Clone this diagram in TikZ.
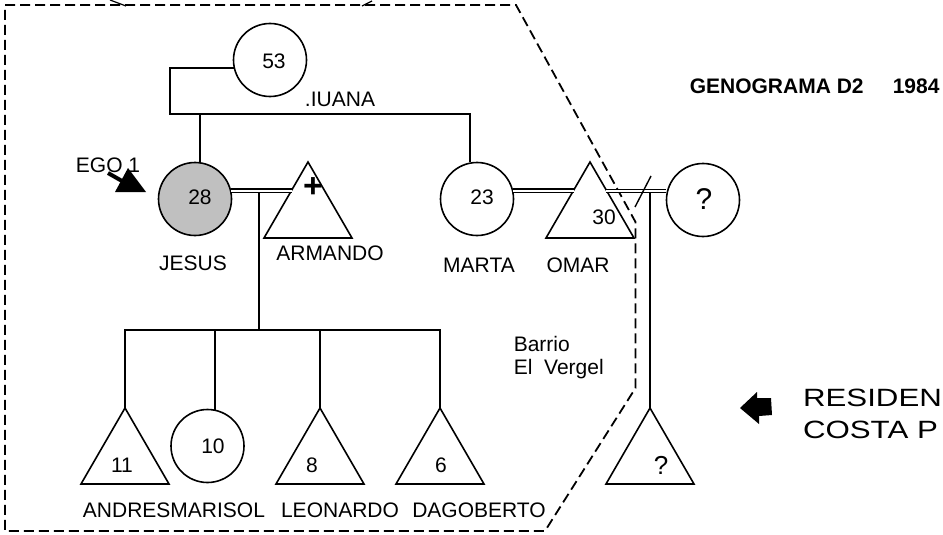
\documentclass[tikz,border=0pt]{standalone}
\usepackage{fontspec}
\setmainfont{Liberation Sans}
\definecolor{egogray}{HTML}{C0C0C0}
\newcommand\gtri[2]{%
  \coordinate (#1) at (#2);
  \draw (#1) -- ++(-44,76) -- ++(88,0) -- cycle;}
\begin{document}
\begin{tikzpicture}[x=1pt,y=-1pt,line width=1.6pt,
  lbl/.style={font=\fontsize{21}{25}\selectfont,inner sep=0pt},
  fem/.style={circle,draw,minimum size=73pt,inner sep=0pt},
  marriage/.style={double,double distance=2.2pt,line width=1.1pt},
  border/.style={line width=1.8pt,dash pattern=on 10pt off 5pt}]
\useasboundingbox (0,0) rectangle (943,535);
% boundary
\draw[border] (5,5) -- (516,5) -- (635.5,222) -- (635.5,388) -- (545,531) -- (5,531) -- cycle;
\draw[line width=1.2pt] (110,0) -- (126,6);
\draw[line width=1.2pt] (362,6) -- (372,1);
% persons
\node[fem] (abuela) at (270,60) {};
\node[fem,fill=egogray] (jesus) at (195,199) {};
\node[fem] (marta) at (477,199) {};
\node[fem] (qf) at (703,200) {};
\node[fem] (marisol) at (207.5,446) {};
\gtri{armando}{308,162}
\gtri{omar}{590,162}
\gtri{andres}{125,408}
\gtri{leonardo}{320,408}
\gtri{dagoberto}{440,408}
\gtri{qm}{650,408}
% numbers
\node[lbl] at (274,61) {53};
\node[lbl] at (200,197) {28};
\node[lbl] at (482,197) {23};
\node[lbl] at (604,217) {30};
\node[lbl,font=\fontsize{30}{34}\selectfont] at (704,199) {?};
\node[lbl] at (122,465) {11};
\node[lbl] at (213,446) {10};
\node[lbl] at (312,465) {8};
\node[lbl] at (441,465) {6};
\node[lbl,font=\fontsize{26}{30}\selectfont] at (661,465) {?};
\node[inner sep=0pt,font=\bfseries\fontsize{34}{34}\selectfont] at (313,188) {+};
% parents line
\coordinate (sib) at (170,114);
\draw (abuela.192) -| (sib) -| (marta.101);
\draw (jesus.82) -- (jesus.82 |- sib);
% couples
\coordinate (armL) at (292,191);
\coordinate (omarL) at (574,191);
\coordinate (omarR) at (606,191);
\draw[marriage] (jesus.13) -- (jesus.13 -| armL);
\draw[marriage] (marta.13) -- (marta.13 -| omarL);
\draw[marriage] (omarR) -- (omarR -| qf.west);
\coordinate (sA) at (635,207);
\coordinate (sB) at (651,176);
\draw[line width=1.4pt] (sA) -- (sB);
% children of Jesus
\coordinate (jc) at (259,193);
\coordinate (kbar) at (259,330);
\draw (jc) -- (kbar);
\draw (andres) -- (andres |- kbar) -- (dagoberto |- kbar) -- (dagoberto);
\draw (leonardo) -- (leonardo |- kbar);
\draw (marisol.78) -- (marisol.78 |- kbar);
% child of Omar
\coordinate (oc) at (650,193);
\draw (oc) -- (qm);
% names
\node[lbl] at (340,99) {.IUANA};
\node[lbl] at (108,165) {EGO 1};
\node[lbl] at (193,263) {JESUS};
\node[lbl] at (330,253) {ARMANDO};
\node[lbl] at (479,265) {MARTA};
\node[lbl] at (578,265) {OMAR};
\node[lbl] at (174,510) {ANDRESMARISOL};
\node[lbl] at (340,510) {LEONARDO};
\node[lbl] at (479,510) {DAGOBERTO};
\node[lbl,anchor=west] at (513,344) {Barrio};
\node[lbl,anchor=west] at (513,369) {El\ \ Vergel};
\node[lbl,anchor=west,font=\bfseries\fontsize{21}{24}\selectfont] at (689,86) {GENOGRAMA D2};
\node[lbl,anchor=west,font=\bfseries\fontsize{21}{24}\selectfont] at (892,86) {1984};
% ego arrow
\draw[line width=4pt] (108,173) -- (122,181);
\fill (146,192) -- (128,168) -- (115,192) -- cycle;
% residence arrow and text
\fill (740,408) -- (757,392) -- (757,398) -- (771,398) -- (772,415) -- (759,416) -- (759,424) -- cycle;
\begin{scope}
\clip (780,380) rectangle (943,443);
\node[inner sep=0pt,anchor=north west,align=left,xscale=1.25,font=\fontsize{25}{32}\selectfont] (res) at (802,388) {RESIDEN\\COSTA P};
\end{scope}
\end{tikzpicture}
\end{document}
